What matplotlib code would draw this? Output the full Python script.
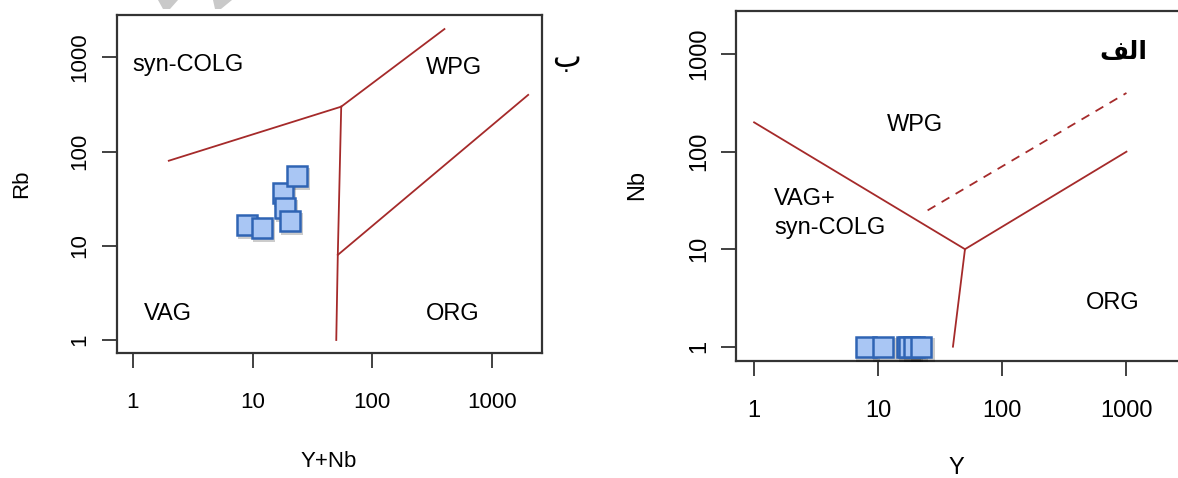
import matplotlib
matplotlib.use("Agg")
import matplotlib.pyplot as plt
import matplotlib.transforms as mtransforms
from matplotlib.patches import Polygon

# --- datos ---
# panel ب : Rb vs Y+Nb
y_nb = [8.96, 11.9, 18.0, 18.7, 20.4, 23.3]
rb = [16.6, 15.5, 36.3, 25.2, 18.3, 55.1]
# panel الف : Nb vs Y
y_vals = [7.96, 10.9, 17.0, 17.7, 19.4, 22.3]
nb = [1, 1, 1, 1, 1, 1]

# limites de campos (Pearce et al. 1984)
colg_vag_x, colg_vag_y = [2, 55], [80, 300]
colg_wpg_x, colg_wpg_y = [55, 400], [300, 2000]
vag_org_x, vag_org_y = [55, 51.5, 50], [300, 8, 1]
org_wpg_x, org_wpg_y = [51.5, 2000], [8, 400]

wpg_vag_x, wpg_vag_y = [1, 50], [200, 10]
wpg_org_x, wpg_org_y = [50, 1000], [10, 100]
vag_org2_x, vag_org2_y = [50, 40], [10, 1]
dash_x, dash_y = [25, 1000], [25, 400]

ticks = [1, 10, 100, 1000]
tick_labels = ['1', '10', '100', '1000']

plt.rcParams['font.family'] = ['Liberation Sans', 'DejaVu Sans']

W, H = 1178, 478
fig = plt.figure(figsize=(W / 100, H / 100), dpi=100)


def axes_px(l, t, r, b):
    return fig.add_axes([l / W, 1 - b / H, (r - l) / W, (b - t) / H])


line_col = '#A52A2A'
face_col = '#A9C6F4'
edge_col = '#2F64B4'


def setup(ax, xlim, ylim, fs, ypad):
    ax.set_xscale('log')
    ax.set_yscale('log')
    ax.set_xlim(*xlim)
    ax.set_ylim(*ylim)
    ax.set_xticks(ticks, tick_labels)
    ax.set_yticks(ticks, tick_labels)
    ax.xaxis.set_minor_locator(plt.NullLocator())
    ax.yaxis.set_minor_locator(plt.NullLocator())
    for s in ax.spines.values():
        s.set_linewidth(1.6)
        s.set_color('#333333')
    ax.tick_params(axis='both', length=11, width=1.3, color='#333333',
                   labelsize=fs, direction='out')
    ax.tick_params(axis='x', pad=17)
    ax.tick_params(axis='y', pad=ypad, labelrotation=90)
    plt.setp(ax.get_yticklabels(), va='center')


def puntos(ax, x, y, ms):
    sombra = ax.transData + mtransforms.ScaledTranslation(2 / 100, -3 / 100, fig.dpi_scale_trans)
    ax.plot(x, y, 's', ms=ms + 2, color='black', alpha=0.2, mew=0,
            transform=sombra, zorder=3)
    ax.plot(x, y, 's', ms=ms, mfc=face_col, mec=edge_col, mew=1.8, zorder=4)


# ---------- panel izquierdo (ب) ----------
ax1 = axes_px(117, 15, 541.7, 352.7)
setup(ax1, (0.739, 2594), (0.733, 2820), 16, 8)
lw = 1.3
ax1.plot(colg_vag_x, colg_vag_y, color=line_col, lw=lw)
ax1.plot(colg_wpg_x, colg_wpg_y, color=line_col, lw=lw)
ax1.plot(vag_org_x, vag_org_y, color=line_col, lw=lw)
ax1.plot(org_wpg_x, org_wpg_y, color=line_col, lw=lw)
puntos(ax1, y_nb, rb, 14.5)

ax1.text(1.0, 830, 'syn-COLG', fontsize=17, ha='left', va='center')
ax1.text(476, 771, 'WPG', fontsize=17, ha='center', va='center')
ax1.text(1.96, 1.89, 'VAG', fontsize=17, ha='center', va='center')
ax1.text(469, 1.89, 'ORG', fontsize=17, ha='center', va='center')
ax1.set_xlabel('Y+Nb', fontsize=16)
ax1.set_ylabel('Rb', fontsize=16)
ax1.xaxis.set_label_coords(0.499, -0.291)
ax1.yaxis.set_label_coords(-0.199, 0.501)
fig.text(566 / W, 1 - 58 / H, '\u0628', fontsize=22, ha='center', va='center',
         family=['DejaVu Sans'])

# ---------- panel derecho (الف) ----------
ax2 = axes_px(736.4, 11, 1180, 360.7)
setup(ax2, (0.72, 2700), (0.718, 2774), 17, 7.5)
ax2.plot(wpg_vag_x, wpg_vag_y, color=line_col, lw=lw)
ax2.plot(wpg_org_x, wpg_org_y, color=line_col, lw=lw)
ax2.plot(vag_org2_x, vag_org2_y, color=line_col, lw=lw)
ax2.plot(dash_x, dash_y, color=line_col, lw=lw, dashes=(5, 4))
puntos(ax2, y_vals, nb, 15)

ax2.text(19.6, 188, 'WPG', fontsize=17, ha='center', va='center')
ax2.text(1.45, 32.7, 'VAG+', fontsize=17, ha='left', va='center')
ax2.text(1.45, 16.4, 'syn-COLG', fontsize=17, ha='left', va='center')
ax2.text(777, 2.79, 'ORG', fontsize=17, ha='center', va='center')
ax2.set_xlabel('Y', fontsize=17)
ax2.set_ylabel('Nb', fontsize=17)
ax2.xaxis.set_label_coords(0.497, -0.275)
ax2.yaxis.set_label_coords(-0.199, 0.502)
# الف (formas de presentación en orden visual)
fig.text(1123 / W, 1 - 52 / H, '\uFED2\uFEDF\u0627', fontsize=18, ha='center',
         va='center', fontweight='bold', family=['DejaVu Sans'])

# marcas grises arriba a la izquierda
for pts in ([(158, 0), (178, 0), (170, 9), (163, 9)],
            [(213, 0), (232, 0), (221, 9), (215, 9)]):
    fig.patches.append(Polygon([(x / W, 1 - y / H) for x, y in pts], closed=True,
                               transform=fig.transFigure, color='#C9C9C9', lw=0))

fig.savefig('out.png', dpi=100)
